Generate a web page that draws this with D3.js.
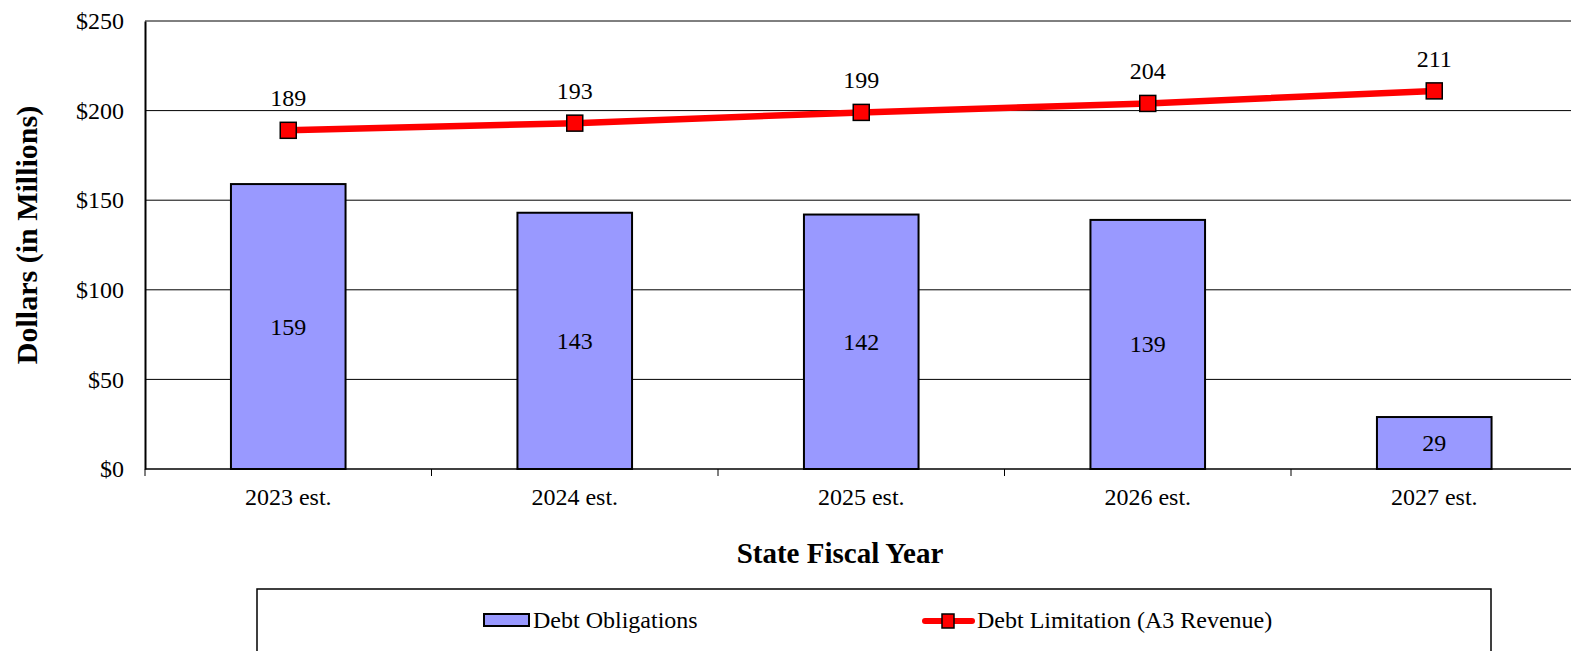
<!DOCTYPE html>
<html>
<head>
<meta charset="utf-8">
<script src="https://cdn.jsdelivr.net/npm/d3@7"></script>
<style>
  html, body { margin: 0; padding: 0; background: #fff; }
  svg { display: block; }
</style>
</head>
<body>
<svg id="chart" width="1571" height="651"></svg>
<script>
const categories = ["2023 est.", "2024 est.", "2025 est.", "2026 est.", "2027 est."];
const debtObligations = [159, 143, 142, 139, 29];
const debtLimitation = [189, 193, 199, 204, 211];
const yTicks = [0, 50, 100, 150, 200, 250];
const seriesNames = ["Debt Obligations", "Debt Limitation (A3 Revenue)"];
const yTitle = "Dollars (in Millions)";
const xTitle = "State Fiscal Year";

const FONT = '"Liberation Serif", "Times New Roman", Times, serif';
const FS = "24px";
const svg = d3.select("#chart");
const W = 1571, H = 651;
const plot = { left: 145, top: 21, bottom: 469, bandW: 286.5 };
const plotRight = plot.left + plot.bandW * categories.length;

const x = d3.scaleBand().domain(categories).range([plot.left, plotRight]).paddingInner(0.6).paddingOuter(0.3);
const xc = d => x(d) + x.bandwidth() / 2;
const y = d3.scaleLinear().domain([0, 250]).range([plot.bottom, plot.top]);

function txt(sel, size, weight) {
  return sel.style("font-family", FONT).style("font-size", size || FS)
    .style("font-weight", weight || "normal").attr("fill", "#000");
}

// gridlines
svg.append("g").selectAll("line").data(yTicks.filter(t => t > 0)).join("line")
  .attr("x1", plot.left).attr("x2", W)
  .attr("y1", d => y(d)).attr("y2", d => y(d))
  .attr("stroke", "#000").attr("stroke-width", 1);

// y axis
const yAxis = d3.axisLeft(y).tickValues(yTicks).tickSize(0).tickPadding(21).tickFormat(d => "$" + d);
const gy = svg.append("g").attr("transform", `translate(${plot.left},0)`).call(yAxis);
gy.attr("font-family", null).attr("font-size", null);
gy.select(".domain").attr("stroke", "#000").attr("stroke-width", 2);
txt(gy.selectAll("text"));

// x axis
const xEdges = d3.range(categories.length).map(i => plot.left + i * plot.bandW);
const gx = svg.append("g");
gx.append("line").attr("x1", plot.left).attr("x2", W).attr("y1", plot.bottom).attr("y2", plot.bottom)
  .attr("stroke", "#000").attr("stroke-width", 1.5);
gx.selectAll("line.tick").data(xEdges).join("line").attr("class", "tick")
  .attr("x1", d => d).attr("x2", d => d).attr("y1", plot.bottom).attr("y2", plot.bottom + 7)
  .attr("stroke", "#000").attr("stroke-width", 1);
txt(gx.selectAll("text").data(categories).join("text")
  .attr("x", d => xc(d)).attr("y", 505).attr("text-anchor", "middle").text(d => d));

// bars
svg.append("g").selectAll("rect").data(categories).join("rect")
  .attr("x", d => x(d)).attr("width", x.bandwidth())
  .attr("y", (d, i) => y(debtObligations[i]))
  .attr("height", (d, i) => y(0) - y(debtObligations[i]))
  .attr("fill", "#9999FF").attr("stroke", "#000").attr("stroke-width", 2);

txt(svg.append("g").selectAll("text").data(categories).join("text")
  .attr("x", d => xc(d))
  .attr("y", (d, i) => (y(debtObligations[i]) + y(0)) / 2 + 8)
  .attr("text-anchor", "middle")
  .text((d, i) => debtObligations[i]));

// line
const line = d3.line().x((d, i) => xc(categories[i])).y(d => y(d));
svg.append("path").datum(debtLimitation).attr("d", line)
  .attr("fill", "none").attr("stroke", "#FF0000").attr("stroke-width", 6.5);
svg.append("g").selectAll("rect").data(debtLimitation).join("rect")
  .attr("x", (d, i) => xc(categories[i]) - 8).attr("y", d => y(d) - 8)
  .attr("width", 16).attr("height", 16)
  .attr("fill", "#FF0000").attr("stroke", "#000").attr("stroke-width", 1.5);
txt(svg.append("g").selectAll("text").data(debtLimitation).join("text")
  .attr("x", (d, i) => xc(categories[i])).attr("y", d => y(d) - 24)
  .attr("text-anchor", "middle").text(d => d));

// axis titles
txt(svg.append("text").attr("x", 840).attr("y", 563).attr("text-anchor", "middle").text(xTitle), "29px", "bold");
txt(svg.append("text").attr("transform", "translate(37,235) rotate(-90)").attr("text-anchor", "middle").text(yTitle), "30px", "bold");

// legend
const lg = svg.append("g");
lg.append("rect").attr("x", 257).attr("y", 589).attr("width", 1234).attr("height", 80)
  .attr("fill", "#fff").attr("stroke", "#000").attr("stroke-width", 1.5);
lg.append("rect").attr("x", 484).attr("y", 614).attr("width", 45).attr("height", 12)
  .attr("fill", "#9999FF").attr("stroke", "#000").attr("stroke-width", 2);
txt(lg.append("text").attr("x", 533).attr("y", 628).text(seriesNames[0]));
lg.append("line").attr("x1", 925).attr("x2", 972).attr("y1", 621).attr("y2", 621)
  .attr("stroke", "#FF0000").attr("stroke-width", 6).attr("stroke-linecap", "round");
lg.append("rect").attr("x", 942).attr("y", 614).attr("width", 12).attr("height", 14)
  .attr("fill", "#FF0000").attr("stroke", "#000").attr("stroke-width", 1.5);
txt(lg.append("text").attr("x", 977).attr("y", 628).text(seriesNames[1]));
</script>
</body>
</html>
